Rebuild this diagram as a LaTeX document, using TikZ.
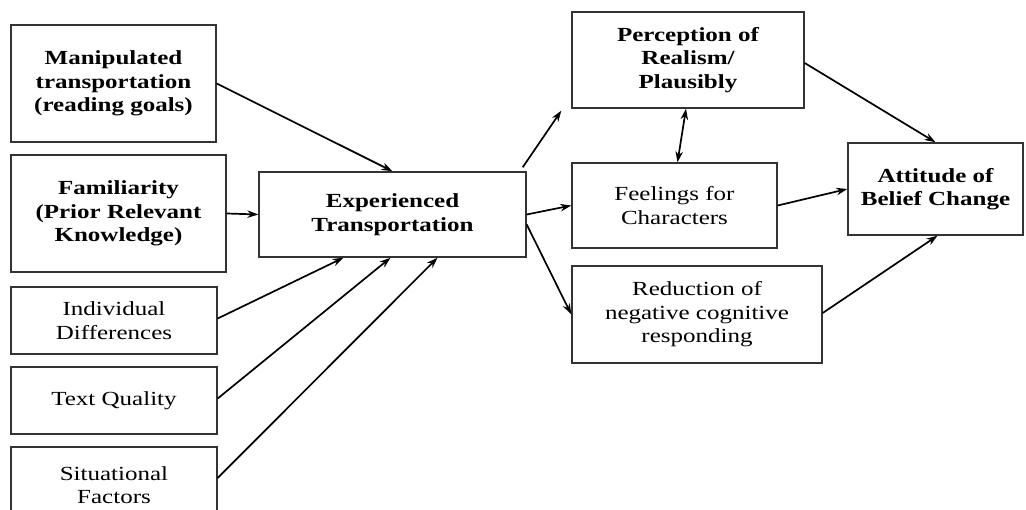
\documentclass[tikz,border=0pt]{standalone}
\usepackage{fontspec}
\setmainfont{Liberation Serif}[FakeStretch=1.25]
\usetikzlibrary{arrows.meta,calc}
\begin{document}
\begin{tikzpicture}[x=1pt,y=-1pt,
  box/.style={draw=black!80, line width=1.4pt, align=center, inner sep=0pt,
    font=\fontsize{20}{23.5}\selectfont},
  bbox/.style={box, font=\fontsize{20}{23.5}\selectfont\bfseries},
  tip/.style={Stealth[length=11pt,width=7.5pt]},
  conn/.style={line width=1.7pt, -{Stealth[length=11pt,width=7.5pt]}},
  biconn/.style={line width=1.7pt, {Stealth[length=11pt,width=7.5pt]}-{Stealth[length=11pt,width=7.5pt]}}]
\useasboundingbox (0,0) rectangle (1026,510);
\clip (0,0) rectangle (1026,510);
\fill[white] (0,0) rectangle (1026,510);
% left column
\node[bbox, minimum width=205pt, minimum height=117pt] (manip) at (113.5,83.5)
  {Manipulated\\transportation\\(reading goals)};
\node[bbox, minimum width=215pt, minimum height=117pt] (fam) at (118.5,213.5)
  {Familiarity\\(Prior Relevant\\Knowledge)};
\node[box, minimum width=206pt, minimum height=67pt] (ind) at (114,320.5)
  {Individual\\Differences};
\node[box, minimum width=206pt, minimum height=67pt] (tq) at (114,400.5)
  {Text Quality};
\node[box, minimum width=206pt, minimum height=76pt] (sit) at (114,485)
  {Situational\\Factors};
% centre
\node[bbox, minimum width=267pt, minimum height=85pt] (exp) at (392.5,214.5)
  {Experienced\\Transportation};
% right
\node[bbox, minimum width=232pt, minimum height=96pt] (perc) at (688,60)
  {Perception of\\Realism/\\Plausibly};
\node[box, minimum width=205pt, minimum height=85pt] (feel) at (674.5,205.5)
  {Feelings for\\Characters};
\node[box, minimum width=250pt, minimum height=97pt] (red) at (697,314.5)
  {Reduction of\\negative cognitive\\responding};
\node[bbox, minimum width=175pt, minimum height=92pt] (att) at (935.5,189)
  {Attitude of\\Belief Change};
% connectors
\draw[conn] (manip.east) -- (exp.north);
\draw[conn] (fam.east) -- (exp.west);
\draw[conn] ([yshift=2pt]ind.east) -- ([xshift=-49pt]exp.south);
\draw[conn] ([yshift=2pt]tq.east) -- ([xshift=-2pt]exp.south);
\draw[conn] ([yshift=7pt]sit.east) -- ([xshift=45pt]exp.south);
\coordinate (pt) at ([xshift=-10pt,yshift=-2pt]perc.south west);
\draw[conn] ([xshift=-4pt,yshift=4pt]exp.north east) -- (pt);
\draw[conn] (exp.east) -- (feel.west);
\draw[conn] ([yshift=-10pt]exp.east) -- (red.west);
\draw[biconn] ([xshift=-2pt]perc.south) -- ([xshift=3pt]feel.north);
\draw[conn] ([yshift=-3pt]perc.east) -- (att.north);
\draw[conn] (feel.east) -- (att.west);
\draw[conn] ([yshift=1.5pt]red.east) -- ([xshift=2pt]att.south);
\end{tikzpicture}
\end{document}
